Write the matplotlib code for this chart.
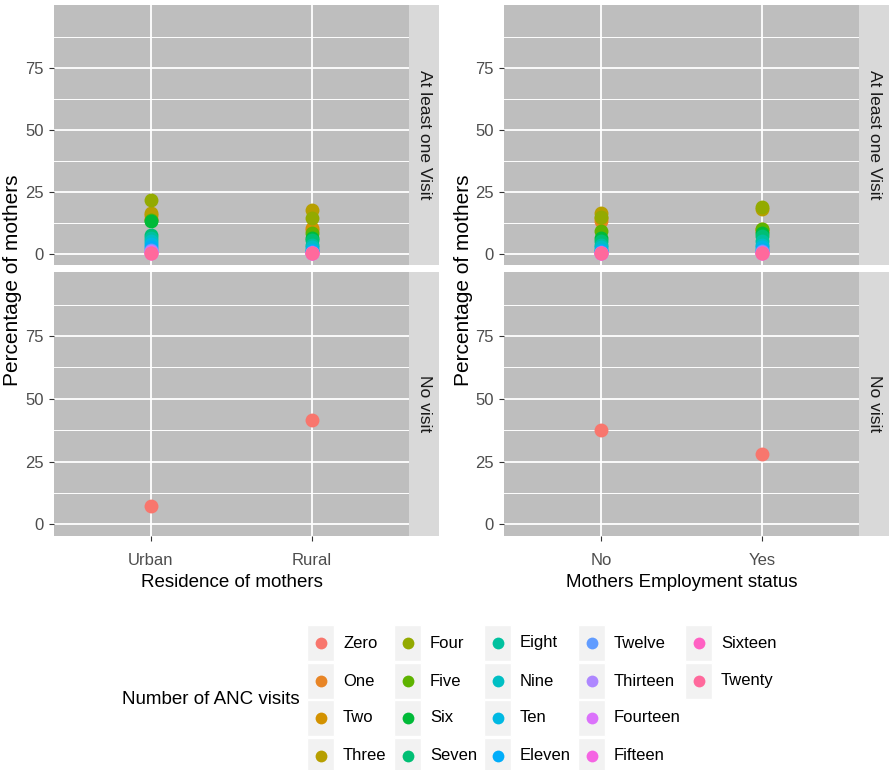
import numpy as np
import matplotlib
matplotlib.use("Agg")
import matplotlib.pyplot as plt
from matplotlib.lines import Line2D
from matplotlib.patches import Rectangle

# ------------------------
# Data (percentage of mothers)
# ------------------------
visit_levels = ["Zero", "One", "Two", "Three", "Four", "Five", "Six", "Seven", "Eight",
                "Nine", "Ten", "Eleven", "Twelve", "Thirteen", "Fourteen", "Fifteen",
                "Sixteen", "Twenty"]
attended = visit_levels[1:]

residence = ["Urban", "Rural"]
employment = ["No", "Yes"]

# at least one visit, by number of visits (One .. Twenty)
urban_visit = [14.0, 15.5, 16.5, 21.5, 13.5, 13.0, 7.5, 6.5, 5.0, 4.0, 2.5, 1.5, 1.0, 0.6, 0.4, 0.3, 0.2]
rural_visit = [9.5, 10.5, 17.5, 14.5, 8.5, 6.5, 5.5, 3.5, 2.5, 1.5, 1.0, 0.6, 0.4, 0.3, 0.2, 0.1, 0.1]
emp_no_visit = [13.0, 14.5, 16.5, 15.0, 9.0, 6.5, 5.0, 3.5, 2.5, 1.5, 1.0, 0.6, 0.4, 0.3, 0.2, 0.1, 0.1]
emp_yes_visit = [9.0, 10.0, 18.0, 19.0, 10.0, 8.5, 7.0, 5.0, 3.5, 2.5, 1.5, 1.0, 0.6, 0.4, 0.3, 0.2, 0.1]

# no visit (Zero)
residence_none = [7.3, 41.7]
employment_none = [37.7, 28.0]


# ggplot-style hue palette (HCL, c=100, l=65)
def hue_pal(n, c=100.0, l=65.0):
    hues = np.linspace(15, 375, n + 1)[:-1]
    xn, yn, zn = 0.95047, 1.0, 1.08883
    un = 4 * xn / (xn + 15 * yn + 3 * zn)
    vn = 9 * yn / (xn + 15 * yn + 3 * zn)
    out = []
    for h in hues:
        u = c * np.cos(np.radians(h))
        v = c * np.sin(np.radians(h))
        Y = yn * ((l + 16) / 116) ** 3
        up = u / (13 * l) + un
        vp = v / (13 * l) + vn
        X = Y * 9 * up / (4 * vp)
        Z = Y * (12 - 3 * up - 20 * vp) / (4 * vp)
        rgb = np.array([[3.2404542, -1.5371385, -0.4985314],
                        [-0.9692660, 1.8760108, 0.0415560],
                        [0.0556434, -0.2040259, 1.0572252]]) @ np.array([X, Y, Z])
        rgb = np.where(rgb <= 0.0031308, 12.92 * rgb, 1.055 * np.clip(rgb, 0, None) ** (1 / 2.4) - 0.055)
        out.append(tuple(np.clip(rgb, 0, 1)))
    return out


colors = dict(zip(visit_levels, hue_pal(len(visit_levels))))

font = "Liberation Sans"
panel_bg = "#BEBEBE"
strip_bg = "#D9D9D9"
tick_col = "#4D4D4D"

fig = plt.figure(figsize=(8.89, 7.70), dpi=100)
W, H = 889.0, 770.0


def px_axes(x0, y0, x1, y1):
    return fig.add_axes([x0 / W, 1 - y1 / H, (x1 - x0) / W, (y1 - y0) / H])


def facet(ax, cats, show_x, strip_ax, strip_text):
    ax.set_facecolor(panel_bg)
    ax.set_xlim(0.4, 2.6)
    ax.set_ylim(-4.6, 100.5)
    ax.set_yticks([0, 25, 50, 75])
    ax.set_yticks([12.5, 37.5, 62.5, 87.5], minor=True)
    ax.set_xticks([1, 2])
    ax.grid(True, which="major", color="white", linewidth=1.3)
    ax.grid(True, which="minor", axis="y", color="white", linewidth=0.7)
    ax.set_axisbelow(True)
    for s in ax.spines.values():
        s.set_visible(False)
    ax.tick_params(which="minor", length=0)
    ax.tick_params(which="major", length=3.5, color="#333333", width=0.8,
                   labelcolor=tick_col, labelsize=12)
    ax.tick_params(axis="y", pad=4)
    ax.tick_params(axis="x", pad=9)
    for t in ax.get_yticklabels():
        t.set_fontfamily(font)
    if show_x:
        ax.set_xticklabels(cats, fontfamily=font)
    else:
        ax.tick_params(axis="x", length=0, labelbottom=False)
    strip_ax.set_facecolor(strip_bg)
    strip_ax.set_xticks([])
    strip_ax.set_yticks([])
    for s in strip_ax.spines.values():
        s.set_visible(False)
    strip_ax.text(0.5, 0.5, strip_text, rotation=-90, ha="center", va="center",
                  fontsize=12.5, color="#1A1A1A", fontfamily=font,
                  transform=strip_ax.transAxes)


def draw_panel(x0, x1, cats, visit_a, visit_b, none_vals, xlabel):
    top = px_axes(x0, 5, x1, 265)
    top_strip = px_axes(x1, 5, x1 + 30, 265)
    bot = px_axes(x0, 272, x1, 536)
    bot_strip = px_axes(x1, 272, x1 + 30, 536)
    facet(top, cats, False, top_strip, "At least one Visit")
    facet(bot, cats, True, bot_strip, "No visit")

    for i, lvl in enumerate(attended):
        top.plot([1, 2], [visit_a[i], visit_b[i]], "o", linestyle="none",
                 color=colors[lvl], markersize=10, markeredgewidth=0)
    bot.plot([1, 2], none_vals, "o", linestyle="none",
             color=colors["Zero"], markersize=10, markeredgewidth=0)

    bot.set_xlabel(xlabel, fontsize=13.5, fontfamily=font, color="black", labelpad=4)
    fig.text((x0 - 41) / W, 1 - 280 / H, "Percentage of mothers",
             rotation=90, ha="center", va="center", fontsize=15, fontfamily=font)


draw_panel(54, 409, residence, urban_visit, rural_visit, residence_none,
           "Residence of mothers")
draw_panel(504, 859, employment, emp_no_visit, emp_yes_visit, employment_none,
           "Mothers Employment status")

# ------------------------
# Legend at the bottom (column-major, 4 rows)
# ------------------------
col_x = [307, 394, 484, 578, 685]
row_y = [643, 681, 718, 756]
for idx, lvl in enumerate(visit_levels):
    cx = col_x[idx // 4]
    cy = row_y[idx % 4]
    fig.add_artist(Rectangle((cx / W, 1 - (cy + 18) / H), 27 / W, 36 / H,
                             transform=fig.transFigure, facecolor="#F2F2F2",
                             edgecolor="white", linewidth=1))
    fig.add_artist(Line2D([(cx + 13.5) / W], [1 - cy / H], marker="o", linestyle="none",
                          color=colors[lvl], markersize=8.5, markeredgewidth=0,
                          transform=fig.transFigure))
    fig.text((cx + 36) / W, 1 - cy / H, lvl, ha="left", va="center",
             fontsize=12, fontfamily=font, color="black")

fig.text(122 / W, 1 - 699 / H, "Number of ANC visits", ha="left", va="center",
         fontsize=13.5, fontfamily=font)

fig.savefig("out.png", dpi=100, facecolor="white")
